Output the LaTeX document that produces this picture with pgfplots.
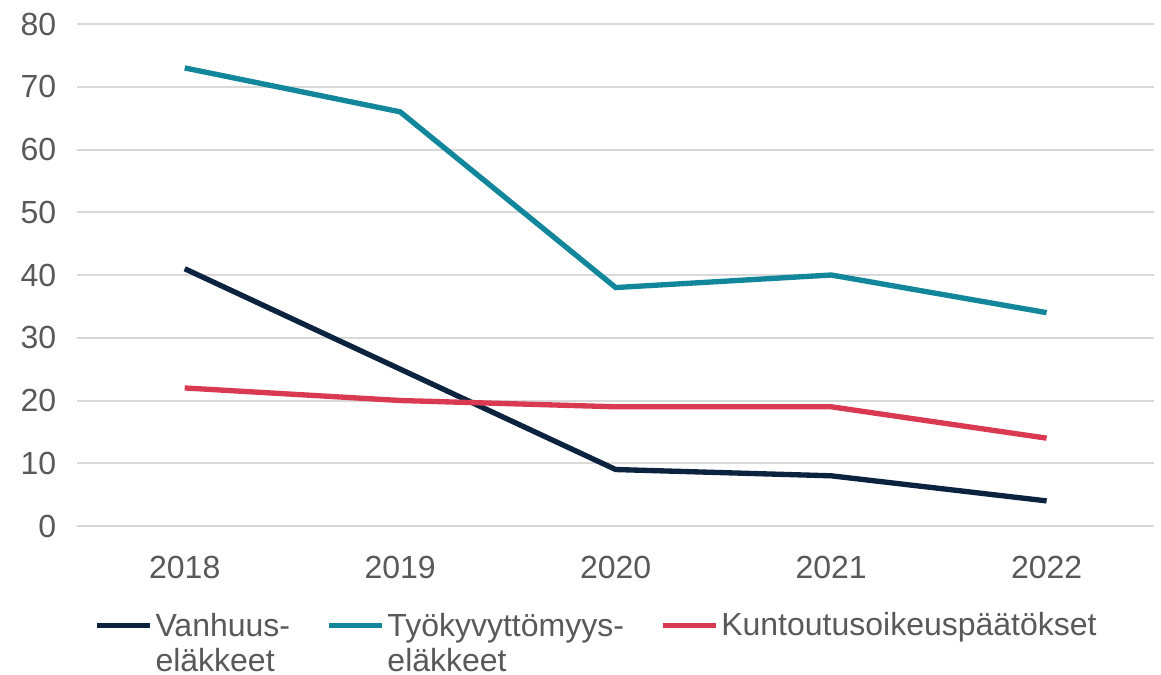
\documentclass[border=0pt]{standalone}
\usepackage{pgfplots}
\pgfplotsset{compat=1.18}
\usepackage{fontspec}
\setmainfont{Liberation Sans}
\definecolor{navy}{HTML}{0C2340}
\definecolor{teal}{HTML}{12879B}
\definecolor{rred}{HTML}{D93A52}
\definecolor{txt}{HTML}{595959}
\definecolor{grd}{HTML}{D9D9D9}
\begin{document}
\begin{tikzpicture}
\useasboundingbox (-57.75pt,-111.75pt) rectangle (813pt,394.5pt);
\begin{axis}[
  scale only axis,
  width=808pt, height=376.5pt,
  xmin=-0.5, xmax=4.5, ymin=0, ymax=80,
  axis line style={draw=none},
  xtick={0,1,2,3,4},
  xticklabels={2018,2019,2020,2021,2022},
  ytick={0,10,...,80},
  ymajorgrids,
  grid style={grd, line width=1.5pt},
  major tick length=0pt,
  tick label style={font=\fontsize{24}{28}\selectfont, text=txt},
  /pgf/number format/assume math mode=true,
  yticklabel style={xshift=-12pt},
  xticklabel style={yshift=-19pt},
  legend columns=3,
  legend cell align=left,
  legend style={draw=none, fill=none, at={(0.012,-0.16)}, anchor=north west,
    font=\fontsize{24}{26.5}\selectfont, text=txt,
    /tikz/every even column/.append style={column sep=25pt}},
  legend image code/.code={\draw[#1,line width=4pt] (0pt,0pt) -- (40pt,0pt); \path (0pt,-8.5pt);},
]
\addplot[navy, line width=4pt] coordinates {(0,41) (1,25) (2,9) (3,8) (4,4)};
\addlegendentry{\begin{tabular}[t]{@{}l@{}}Vanhuus-\\eläkkeet\end{tabular}}
\addplot[teal, line width=4pt] coordinates {(0,73) (1,66) (2,38) (3,40) (4,34)};
\addlegendentry{\begin{tabular}[t]{@{}l@{}}Työkyvyttömyys-\\eläkkeet\end{tabular}}
\addplot[rred, line width=4pt] coordinates {(0,22) (1,20) (2,19) (3,19) (4,14)};
\addlegendentry{Kuntoutusoikeuspäätökset}
\end{axis}
\end{tikzpicture}
\end{document}
